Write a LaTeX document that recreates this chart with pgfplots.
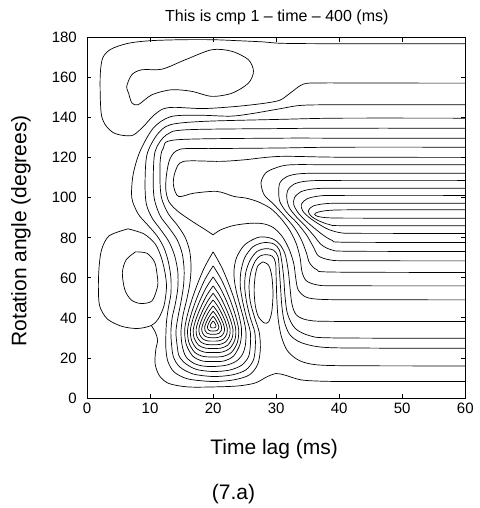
\documentclass[border=0pt]{standalone}
\usepackage{pgfplots}
\pgfplotsset{compat=1.18}
\usepackage{fontspec}
\setmainfont{Liberation Sans}
\pgfplotsset{ctr/.style={black, line width=0.7bp, smooth, mark=none}}
\begin{document}
\begin{tikzpicture}
\useasboundingbox (-87bp,-110bp) rectangle (392bp,397.7bp);
\begin{axis}[at={(0,0)}, anchor=south west, scale only axis,
  width=378bp, height=360bp,
  xmin=0, xmax=60, ymin=0, ymax=180,
  xtick={0,10,20,30,40,50,60}, ytick={0,20,40,60,80,100,120,140,160,180},
  xticklabels={0,10,20,30,40,50,60},
  yticklabels={0,20,40,60,80,100,120,140,160,180},
  tick align=inside, major tick length=4bp,
  ticklabel style={font=\fontsize{15bp}{17bp}\selectfont},
  xticklabel style={anchor=north, inner sep=0pt, yshift=-5bp},
  yticklabel style={anchor=east, inner sep=0pt, xshift=-10bp},
  axis line style={black, line width=0.8bp},
  every tick/.style={black, line width=0.8bp},
]
% A
\addplot[ctr] coordinates {(60,177) (40,177) (31,177.2) (28,177.9) (24,178.5) (20,179) (15,179) (10,178.5) (6.5,177.2) (3.8,174.3) (2.5,170) (2.1,162) (2.1,150) (2.3,141) (3,136) (4.2,132.5) (5.7,131.2) (7.3,131.3) (8.9,135.5) (10.5,141) (12.1,144.5) (14,145.2) (18.5,144.6) (23.8,145.7) (28,147.2) (30.6,148.8) (32.3,152.5) (34.3,156.8) (37,157.4) (45,157.35) (60,157.3)};
% B
\addplot[ctr] coordinates {(6.6,152.3) (6.3,155.7) (7.1,161.5) (8.7,164) (11.9,164.3) (15.6,169) (19.8,174) (23,173.2) (25.6,169) (26.4,163.2) (25.6,157.3) (23,152.3) (19.8,150.7) (16.6,153.2) (13.4,154) (10.3,151.5) (8.1,146.5) (7.1,147.5) (6.6,152.3)};
% left outer loop
\addplot[ctr] coordinates {(6.5,84.5) (9,82) (10.8,77) (11.8,70) (12.4,62) (12.6,55) (12.2,46) (11.3,39.5) (10.2,36.2) (8,34.7) (5.5,35.8) (3.2,39.5) (2,46) (1.8,55) (1.9,65) (2.3,74) (3.5,81) (6.5,84.5)};
% left inner ellipse
\addplot[ctr] coordinates {(7.7,73) (9.5,72.3) (10.7,68) (11.1,62) (11.2,56) (10.3,48.5) (8.5,47.2) (7,49) (6,54) (5.6,62.5) (6.2,69) (7.7,73)};
% L0 bottom line
\addplot[ctr] coordinates {(60,8.2) (45,8.2) (38,8.3) (34,9) (31.5,11.3) (30,12.2) (28.5,10.5) (26.7,7.5) (24,6) (20,5.5) (16,5.5) (13,7.2) (11.5,11) (10.8,17) (10.9,24) (11.2,29) (10.8,33) (10.2,36.2)};
% U_a
\addplot[ctr] coordinates {(60,146.5) (40,146.5) (34,146.2) (30.6,144.5) (26,142) (22.7,140.8) (17.4,141.3) (13.2,140.5) (10.5,134.8) (8.4,123.2) (7.3,111.5) (7.1,100) (8.1,92) (9.6,86.5) (11.1,81) (12.2,75) (12.9,68) (13.3,60) (13.3,52) (12.9,45) (12.6,38) (12.5,31) (12.5,25) (12.8,18.5) (13.8,13) (16,9.5) (20,8.2) (23.4,9.1) (25.8,11.6) (27.1,17) (27.5,25) (27.3,33) (26.6,40) (25.9,48) (25.7,56) (26,63) (26.7,68.5) (27.5,71) (28.4,71.6) (29.4,70.8) (29.9,67.5) (30,60) (30.1,50) (30.3,40) (30.8,31) (31.8,23.5) (33.8,18.5) (37,16.4) (45,16.05) (60,16)};
% U_b
\addplot[ctr] coordinates {(60,139.8) (40,139.8) (30.6,139.2) (18.5,138.2) (13.2,136.5) (11.1,131.5) (9.5,121.5) (9.2,107) (9.4,97) (10.3,90) (11.7,84) (13,78) (13.9,71) (14.4,63) (14.4,55) (14,47) (13.5,40) (13.3,33) (13.4,27) (13.7,20.5) (14.7,15.5) (16.8,12) (20,10.7) (23,11.5) (25.2,14) (26.4,19) (26.7,26) (26.6,33) (25.9,40) (25.3,48) (25,56) (25.2,63) (25.9,69) (27,73.3) (28.3,74.6) (29.6,73.8) (30.3,70.5) (30.5,64) (30.7,55) (30.9,46) (31.3,38) (32.2,31.5) (34,27.6) (37.5,25.3) (45,24.9) (60,24.8)};
% U_c
\addplot[ctr] coordinates {(60,134.8) (40,134.8) (30.6,134.6) (15.8,134) (12.6,131.5) (10.8,123.2) (10.5,108) (10.7,99) (11.6,91) (13,85) (14.3,79) (15.1,72) (15.4,64) (15.3,56) (14.9,48) (14.4,40) (14.1,33) (14.3,26) (14.6,21) (15.6,17.2) (17.4,14.2) (20,13.2) (22.6,13.9) (24.5,16.3) (25.6,20.5) (25.9,26) (25.9,33) (25.3,40) (24.7,48) (24.3,56) (24.4,63) (25,70) (26.3,75.5) (28,77.6) (29.6,77) (30.5,74) (30.9,68) (31.2,60) (31.4,51) (31.8,42) (33,34.8) (35.3,31.1) (39,30) (60,29.8)};
% U_d
\addplot[ctr] coordinates {(60,129.8) (40,129.8) (30.6,129.8) (14.2,129) (12.1,124.8) (11.6,118.2) (11.6,106) (11.9,99) (12.9,92) (14.4,86) (15.6,80) (16.3,73) (16.5,65) (16.3,57) (15.8,49) (15.2,41) (14.9,33) (15.1,26) (15.7,20.5) (17,17.2) (18.5,15.9) (20,15.7) (22,16.3) (23.6,18.2) (24.6,21.5) (25.1,26) (25.2,33) (24.8,40) (24.1,48) (23.5,56) (23.3,63) (23.7,70) (25,76.5) (27.2,80.3) (29.2,79.8) (30.5,77) (31.4,72) (31.9,64) (32.2,55) (32.5,47) (33.2,41.5) (35,38.9) (39,38.25) (60,38.2)};
% U_e (two parts, sharp V)
\addplot[ctr] coordinates {(60,125.3) (40,125.3) (30.6,124.9) (20,124.6) (14.8,124.3) (13.2,119.8) (12.6,111.5) (12.5,104) (13,98) (14.5,93) (16.9,87.8) (18.8,84) (20,81.5)};
\addplot[ctr] coordinates {(20,81.5) (21.2,84) (23.3,86.2) (26,87.3) (28,87) (29.6,85) (31,80.5) (32.1,74) (32.8,67) (33.1,60) (33.5,54) (34.8,50.3) (37.5,49.2) (45,49.05) (60,49)};
% U_f
\addplot[ctr] coordinates {(60,120.2) (40,120.3) (30.6,120.7) (25,119) (21.1,118.2) (15.3,118.2) (14,113.2) (13.7,106.5) (14.5,100.7) (16.9,102.3) (20.6,103.2) (23.3,100.7) (25.3,99.8) (27.3,97.8) (29.2,94.5) (30.8,89.5) (32.2,83.5) (33.2,77) (33.8,70) (34.1,63) (34.8,58.5) (36.5,56.5) (39.5,56.05) (60,56)};
% bump line
\addplot[ctr] coordinates {(60,116.5) (40,116.5) (32.3,116.5) (29.8,114.8) (28.3,112.3) (27.6,107.5) (28.1,101.5) (29.6,96.8) (31.3,91) (32.9,85) (34,79) (34.8,72.5) (35.3,67.5) (36.5,64) (39,62.9) (60,62.7)};
% L6..L1
\addplot[ctr] coordinates {(60,112.3) (40,112.3) (34,112.1) (31.7,110.6) (30.6,107.5) (30.4,103) (30.6,98) (31.6,93) (33.3,87.5) (34.8,81.5) (35.9,75.5) (36.7,71) (38.5,69) (41.5,68.55) (60,68.5)};
\addplot[ctr] coordinates {(60,108.7) (40,108.7) (35,108.4) (32.8,106.8) (31.8,103.5) (31.7,99.5) (32.1,95) (33.2,90.5) (34.6,86) (36,81) (37.2,76.5) (38.8,74) (41.5,73.3) (60,73.2)};
\addplot[ctr] coordinates {(60,104.8) (40,104.8) (36,104.5) (33.9,103) (32.9,100) (32.8,96.5) (33.5,92.5) (34.7,88.5) (36,85) (37.4,81.5) (38.9,78.7) (41,77.8) (60,77.7)};
\addplot[ctr] coordinates {(60,101.2) (40,101.2) (36.8,100.9) (34.9,99.5) (34,96.8) (34.2,93.5) (35.2,90.3) (36.6,87.2) (38.3,84.2) (40.3,82.5) (43,82.25) (60,82.2)};
\addplot[ctr] coordinates {(60,97.3) (41,97.3) (37.6,97) (35.8,95.8) (35.1,93.5) (35.5,91) (36.7,88.6) (38.5,86.6) (41,86.05) (60,86)};
\addplot[ctr] coordinates {(60,94) (42,94) (38.3,93.7) (36.6,92.8) (36.1,91.8) (36.6,90.7) (38.3,90) (42,89.85) (60,89.8)};
% right ellipse
\addplot[ctr] coordinates {(27.9,68) (28.8,66.3) (29.3,61) (29.5,52) (29.3,43) (28.8,38) (28.1,37.5) (27.2,40.5) (26.7,46) (26.5,54) (26.7,61.5) (27.1,66) (27.9,68)};
% teardrop rings
\addplot[ctr] coordinates {(20,38.5) (20.14,37.98) (20.28,37.31) (20.39,36.65) (20.45,36.05) (20.43,35.56) (20.32,35.18) (20.17,35.02) (20,35) (19.83,35.02) (19.68,35.18) (19.57,35.56) (19.55,36.05) (19.61,36.65) (19.72,37.31) (19.86,37.98) (20,38.5)};
\addplot[ctr] coordinates {(20,40.8) (20.29,39.69) (20.56,38.28) (20.77,36.88) (20.9,35.62) (20.86,34.58) (20.65,33.77) (20.34,33.44) (20,33.4) (19.66,33.44) (19.35,33.77) (19.14,34.58) (19.1,35.62) (19.23,36.88) (19.44,38.28) (19.71,39.69) (20,40.8)};
\addplot[ctr] coordinates {(20,43.3) (20.43,41.58) (20.84,39.39) (21.16,37.21) (21.35,35.25) (21.28,33.64) (20.97,32.38) (20.51,31.86) (20,31.8) (19.49,31.86) (19.03,32.38) (18.72,33.64) (18.65,35.25) (18.84,37.21) (19.16,39.39) (19.57,41.58) (20,43.3)};
\addplot[ctr] coordinates {(20,46) (20.58,43.62) (21.12,40.59) (21.55,37.57) (21.8,34.87) (21.71,32.64) (21.3,30.9) (20.68,30.18) (20,30.1) (19.32,30.18) (18.7,30.9) (18.29,32.64) (18.2,34.87) (18.45,37.57) (18.88,40.59) (19.42,43.62) (20,46)};
\addplot[ctr] coordinates {(20,49) (20.72,45.91) (21.4,42) (21.94,38.08) (22.25,34.58) (22.14,31.7) (21.62,29.43) (20.86,28.5) (20,28.4) (19.14,28.5) (18.38,29.43) (17.86,31.7) (17.75,34.58) (18.06,38.08) (18.6,42) (19.28,45.91) (20,49)};
\addplot[ctr] coordinates {(20,52.3) (20.86,48.45) (21.67,43.56) (22.32,38.68) (22.7,34.31) (22.57,30.71) (21.94,27.89) (21.03,26.73) (20,26.6) (18.97,26.73) (18.06,27.89) (17.43,30.71) (17.3,34.31) (17.68,38.68) (18.33,43.56) (19.14,48.45) (20,52.3)};
\addplot[ctr] coordinates {(20,56) (21.01,51.31) (21.95,45.36) (22.71,39.41) (23.15,34.09) (22.99,29.71) (22.27,26.27) (21.2,24.86) (20,24.7) (18.8,24.86) (17.73,26.27) (17.01,29.71) (16.85,34.09) (17.29,39.41) (18.05,45.36) (18.99,51.31) (20,56)};
\addplot[ctr] coordinates {(20,60.5) (21.15,54.83) (22.23,47.65) (23.1,40.47) (23.6,34.04) (23.42,28.75) (22.59,24.59) (21.37,22.89) (20,22.7) (18.63,22.89) (17.41,24.59) (16.58,28.75) (16.4,34.04) (16.9,40.47) (17.77,47.65) (18.85,54.83) (20,60.5)};
\addplot[ctr] coordinates {(20,66) (21.3,59.18) (22.51,50.53) (23.48,41.89) (24.05,34.15) (23.85,27.78) (22.92,22.78) (21.54,20.73) (20,20.5) (18.46,20.73) (17.08,22.78) (16.15,27.78) (15.95,34.15) (16.52,41.89) (17.49,50.53) (18.7,59.18) (20,66)};
\addplot[ctr] coordinates {(20,73) (21.44,64.78) (22.79,54.37) (23.87,43.96) (24.5,34.64) (24.28,26.97) (23.24,20.94) (21.71,18.47) (20,18.2) (18.29,18.47) (16.76,20.94) (15.72,26.97) (15.5,34.64) (16.13,43.96) (17.21,54.37) (18.56,64.78) (20,73)};
\end{axis}
\node[anchor=base, font=\fontsize{16bp}{19bp}\selectfont] at (189.7bp,376.3bp) {This is cmp 1 – time – 400 (ms)};
\node[anchor=base, font=\fontsize{21bp}{25bp}\selectfont] at (187bp,-57bp) {Time lag (ms)};
\node[anchor=base, font=\fontsize{21bp}{25bp}\selectfont] at (146.3bp,-102bp) {(7.a)};
\node[rotate=90, anchor=center, font=\fontsize{21bp}{25bp}\selectfont] at (-66bp,167bp) {Rotation angle (degrees)};
\end{tikzpicture}
\end{document}
